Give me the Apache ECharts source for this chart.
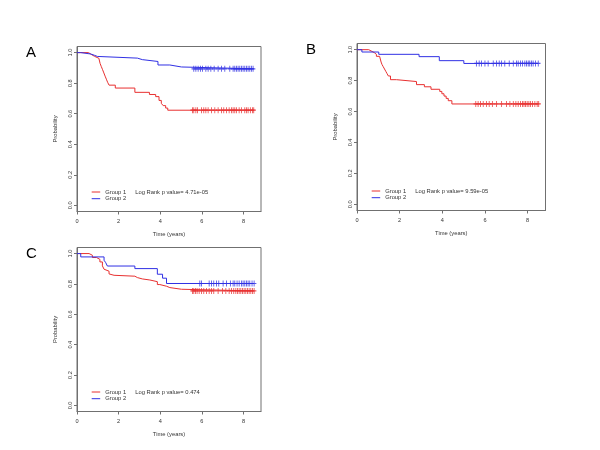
<!DOCTYPE html>
<html><head><meta charset="utf-8">
<script src="https://cdn.jsdelivr.net/npm/echarts@6/dist/echarts.min.js"></script>
<style>html,body{margin:0;padding:0;background:#fff}#c{width:600px;height:450px}</style>
</head><body><div id="c"></div>
<script>
// ---------- data ----------
const xTicks = [0, 2, 4, 6, 8];
const yTicks = [0, 0.2, 0.4, 0.6, 0.8, 1.0];
const panelLabels = ['A', 'B', 'C'];
const groupNames = ['Group 1', 'Group 2'];
const pValues = ['4.71e-05', '9.59e-05', '0.474'];

// Panel A
const A_g1_time = [0, 0.55, 0.70, 0.85, 1.05, 1.11, 1.17, 1.23, 1.29, 1.35, 1.41, 1.47, 1.54, 1.84, 2.78, 3.48, 3.78, 3.94, 4.05, 4.14, 4.26, 4.36, 8.5];
const A_g1_surv = [1.0, 0.987, 0.975, 0.963, 0.950, 0.929, 0.908, 0.888, 0.867, 0.846, 0.826, 0.806, 0.787, 0.768, 0.740, 0.726, 0.712, 0.687, 0.668, 0.653, 0.637, 0.623, 0.623];
const A_g1_cens = [5.55, 5.61, 5.71, 5.79, 5.98, 6.09, 6.19, 6.30, 6.46, 6.62, 6.78, 6.94, 7.05, 7.18, 7.31, 7.42, 7.50, 7.58, 7.66, 7.79, 7.90, 8.06, 8.14, 8.22, 8.33, 8.43, 8.49];
const A_g2_time = [0, 0.18, 0.66, 0.85, 0.98, 2.90, 3.14, 3.89, 4.46, 5.02, 8.5];
const A_g2_surv = [1.0, 0.991, 0.982, 0.975, 0.964, 0.954, 0.942, 0.919, 0.906, 0.894, 0.894];
const A_g2_cens = [5.61, 5.71, 5.82, 5.93, 6.03, 6.19, 6.30, 6.43, 6.59, 6.78, 6.94, 7.10, 7.34, 7.50, 7.58, 7.66, 7.74, 7.82, 7.90, 7.98, 8.06, 8.14, 8.22, 8.30, 8.38, 8.46];

// Panel B
const B_g1_time = [0, 0.55, 0.70, 0.81, 0.91, 1.06, 1.13, 1.17, 1.23, 1.29, 1.35, 1.41, 1.47, 1.57, 1.85, 2.79, 3.16, 3.47, 3.88, 3.98, 4.08, 4.18, 4.28, 4.45, 8.5];
const B_g1_surv = [1.0, 0.989, 0.981, 0.970, 0.957, 0.948, 0.920, 0.905, 0.890, 0.875, 0.860, 0.845, 0.830, 0.806, 0.794, 0.774, 0.760, 0.744, 0.730, 0.715, 0.700, 0.685, 0.670, 0.649, 0.649];
const B_g1_cens = [5.57, 5.68, 5.79, 5.92, 6.07, 6.20, 6.35, 6.54, 6.78, 7.01, 7.17, 7.33, 7.45, 7.56, 7.67, 7.76, 7.83, 7.90, 7.98, 8.06, 8.14, 8.23, 8.34, 8.45, 8.52];
const B_g2_time = [0, 0.23, 1.02, 2.91, 3.86, 5.01, 8.5];
const B_g2_surv = [1.0, 0.985, 0.970, 0.955, 0.929, 0.911, 0.911];
const B_g2_cens = [5.60, 5.73, 5.84, 6.00, 6.15, 6.39, 6.54, 6.67, 6.78, 6.93, 7.14, 7.33, 7.48, 7.56, 7.67, 7.76, 7.87, 7.95, 8.03, 8.10, 8.18, 8.26, 8.37, 8.50];

// Panel C
const C_g1_time = [0, 0.58, 0.74, 0.94, 1.10, 1.22, 1.30, 1.38, 1.54, 1.62, 1.78, 2.78, 2.90, 3.14, 3.50, 3.86, 3.98, 4.30, 4.46, 5.02, 8.5];
const C_g1_surv = [1.0, 0.989, 0.974, 0.962, 0.945, 0.919, 0.897, 0.884, 0.866, 0.857, 0.851, 0.842, 0.833, 0.826, 0.815, 0.796, 0.785, 0.776, 0.765, 0.754, 0.754];
const C_g1_cens = [5.55, 5.61, 5.69, 5.77, 5.87, 5.98, 6.09, 6.22, 6.35, 6.46, 6.57, 6.78, 6.99, 7.15, 7.31, 7.42, 7.53, 7.63, 7.71, 7.79, 7.87, 7.95, 8.03, 8.11, 8.19, 8.27, 8.35, 8.43, 8.51];
const C_g2_time = [0, 0.18, 1.30, 1.38, 1.46, 2.78, 3.86, 4.11, 4.30, 8.5];
const C_g2_surv = [1.0, 0.978, 0.956, 0.940, 0.918, 0.901, 0.864, 0.838, 0.803, 0.803];
const C_g2_cens = [5.90, 5.98, 6.35, 6.46, 6.57, 6.70, 6.81, 7.02, 7.18, 7.37, 7.50, 7.58, 7.69, 7.79, 7.90, 7.98, 8.06, 8.14, 8.22, 8.30, 8.41, 8.51];

// ---------- build ----------
const panels = [
  {g1: [A_g1_time, A_g1_surv, A_g1_cens], g2: [A_g2_time, A_g2_surv, A_g2_cens]},
  {g1: [B_g1_time, B_g1_surv, B_g1_cens], g2: [B_g2_time, B_g2_surv, B_g2_cens]},
  {g1: [C_g1_time, C_g1_surv, C_g1_cens], g2: [C_g2_time, C_g2_surv, C_g2_cens]}
];
const grids = [
  {left: 77, top: 46.5, width: 184, height: 165},
  {left: 357, top: 43.5, width: 188.5, height: 167},
  {left: 77, top: 247.5, width: 184, height: 164}
];
const colors = ['#e83030', '#3030e4'];
const FONT = '"Liberation Sans", Arial, Helvetica, sans-serif';
const boxColor = '#707070';
const txtColor = '#333';

function stepAt(times, surv, t) {
  let v = surv[0];
  for (let i = 0; i < times.length; i++) { if (times[i] <= t) v = surv[i]; }
  return v;
}

const plusPath = 'path://M4,0H6V4H10V6H6V10H4V6H0V4H4Z';
const series = [], xAxis = [], yAxis = [], grid = [], graphic = [];

panels.forEach((p, i) => {
  const g = grids[i];
  grid.push(Object.assign({show: true, borderColor: boxColor, borderWidth: 1, backgroundColor: 'transparent'}, g));
  xAxis.push({
    gridIndex: i, type: 'value', min: 0, max: 8.84,
    axisLine: {show: true, onZero: false, lineStyle: {color: boxColor, width: 1}},
    axisTick: {show: true, customValues: xTicks, length: 3, lineStyle: {color: boxColor}},
    axisLabel: {customValues: xTicks, fontSize: 5.6, color: txtColor, margin: 7, fontFamily: FONT},
    splitLine: {show: false},
    name: 'Time (years)', nameLocation: 'middle', nameGap: 20,
    nameTextStyle: {fontSize: 5.8, color: txtColor, fontFamily: FONT}
  });
  yAxis.push({
    gridIndex: i, type: 'value', min: -0.04, max: 1.04,
    axisLine: {show: true, onZero: false, lineStyle: {color: boxColor, width: 1}},
    axisTick: {show: true, customValues: yTicks, length: 3, lineStyle: {color: boxColor}},
    axisLabel: {customValues: yTicks, fontSize: 5.6, color: txtColor, margin: 4, rotate: 90,
      fontFamily: FONT, formatter: v => v.toFixed(1)},
    splitLine: {show: false},
    name: 'Probability', nameLocation: 'middle', nameGap: 19, nameRotate: 90,
    nameTextStyle: {fontSize: 5.8, color: txtColor, fontFamily: FONT}
  });
  [p.g1, p.g2].forEach((d, k) => {
    const [times, surv, cens] = d;
    series.push({
      type: 'line', name: groupNames[k], xAxisIndex: i, yAxisIndex: i,
      step: 'end', symbol: 'none', animation: false,
      lineStyle: {color: colors[k], width: 1},
      data: times.map((t, j) => [t, surv[j]])
    });
    series.push({
      type: 'scatter', xAxisIndex: i, yAxisIndex: i, animation: false,
      symbol: plusPath, symbolSize: [4.5, 6],
      itemStyle: {color: colors[k]},
      data: cens.map(t => [t, stepAt(times, surv, t)])
    });
  });
  // panel letter
  graphic.push({type: 'text', x: g.left - 51, y: g.top + 6.5,
    style: {text: panelLabels[i], fontSize: 15, fontFamily: FONT, fill: '#000', verticalAlign: 'middle'}});
  // legend
  const lx = g.left + 14.7, ly = g.top + g.height - 19.5;
  [0, 1].forEach(k => {
    graphic.push({type: 'line', shape: {x1: lx, y1: ly + k * 6.7, x2: lx + 8.5, y2: ly + k * 6.7},
      style: {stroke: colors[k], lineWidth: 1}});
    graphic.push({type: 'text', x: lx + 13.5, y: ly + k * 6.7,
      style: {text: groupNames[k], fontSize: 5.8, fontFamily: FONT, fill: txtColor, verticalAlign: 'middle'}});
  });
  graphic.push({type: 'text', x: lx + 43.5, y: ly,
    style: {text: 'Log Rank p value= ' + pValues[i], fontSize: 5.8, fontFamily: FONT, fill: txtColor, verticalAlign: 'middle'}});
});

const chart = echarts.init(document.getElementById('c'), null, {renderer: 'canvas'});
chart.setOption({animation: false, backgroundColor: '#fff', grid, xAxis, yAxis, series, graphic});
</script>
</body></html>
